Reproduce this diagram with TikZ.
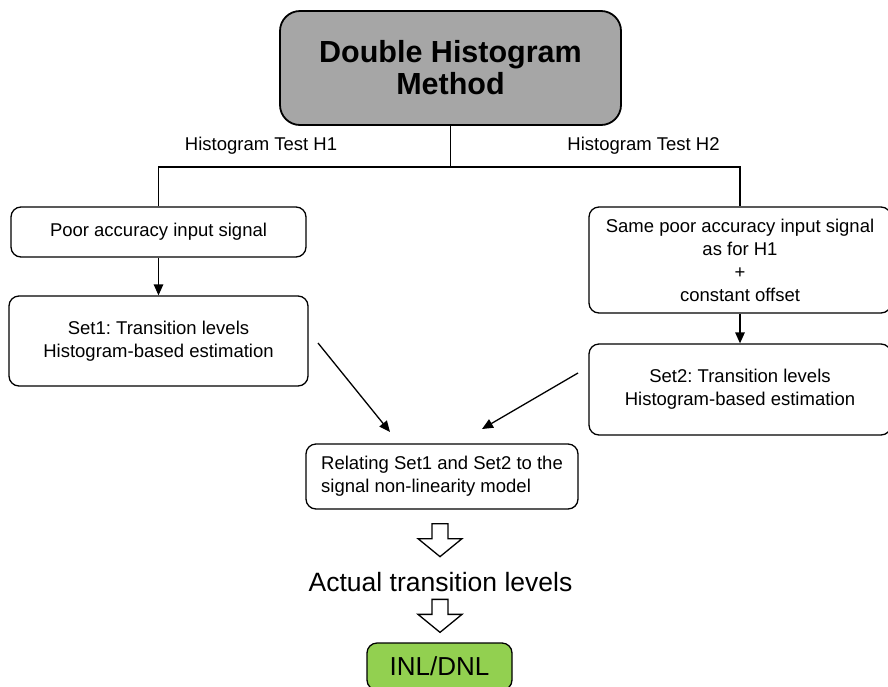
\documentclass[tikz,border=0pt]{standalone}
\usepackage{fontspec}
\setmainfont{Liberation Sans}
\usetikzlibrary{arrows.meta,calc}
\definecolor{headgray}{HTML}{A6A6A6}
\definecolor{resgreen}{HTML}{92D050}
\frenchspacing
\begin{document}
\begin{tikzpicture}[x=1pt,y=-1pt,
  box/.style={draw, line width=1.3pt, rounded corners=10pt, align=center,
    inner sep=0pt, font=\fontsize{18.5}{23}\selectfont},
  link/.style={line width=1.3pt, line join=miter},
  flow/.style={line width=1.3pt, -{Triangle[length=11pt,width=9.5pt]}},
  lbl/.style={inner sep=0pt, font=\fontsize{18.5}{23}\selectfont},
  hollow/.style={draw, line width=1.3pt, fill=white, line join=miter},
  hollowarrow/.pic={\draw[hollow] (-8,0) -- (8,0) -- (8,15) -- (22,15)
    -- (0,33) -- (-22,15) -- (-8,15) -- cycle;}
]
\useasboundingbox (0,0) rectangle (888,686);

% method title
\node[box, fill=headgray, line width=1.8pt, rounded corners=20pt,
  minimum width=341pt, minimum height=114pt,
  font=\bfseries\fontsize{30.5}{32}\selectfont] (head) at (450.5,68)
  {Double Histogram\\Method};

% branch labels
\node[lbl] (h1) at (261,146) {Histogram Test H1};
\node[lbl] (h2) at (643.5,146) {Histogram Test H2};

% left branch
\node[box, minimum width=295pt, minimum height=50pt] (poor) at (158.5,232)
  {Poor accuracy input signal};
\node[box, minimum width=299pt, minimum height=90pt] (set1) at (158.5,341)
  {Set1: Transition levels\\Histogram-based estimation};

% right branch
\node[box, minimum width=302pt, minimum height=106pt] (same) at (740,260)
  {Same poor accuracy input signal\\as for H1\\+\\constant offset};
\node[box, minimum width=302pt, minimum height=91pt] (set2) at (740,389.5)
  {Set2: Transition levels\\Histogram-based estimation};

% merge and results
\node[box, align=left, minimum width=272pt, minimum height=65pt] (relate)
  at (442,476.5) {Relating Set1 and Set2 to the\\signal non-linearity model};
\node[lbl, font=\fontsize{26.5}{30}\selectfont] (actual) at (440.5,582)
  {Actual transition levels};
\node[box, fill=resgreen, minimum width=145pt, minimum height=47pt,
  font=\fontsize{26}{30}\selectfont] (inl) at (439.5,666.5) {INL/DNL};

% tree connectors
\draw[link] (head.south) -- ++(0,41) coordinate (split);
\draw[link] (poor.north) |- (split) -| (same.north);

\draw[flow] (poor) -- (set1);
\draw[flow] (same) -- (set2);

% diagonal feeds into the relating step
\coordinate (s1tail) at (318,343);
\coordinate (s1tip) at (390,432);
\coordinate (s2tail) at (578,373);
\coordinate (s2tip) at (482,429);
\draw[flow] (s1tail) -- (s1tip);
\draw[flow] (s2tail) -- (s2tip);

% block arrows
\pic at ($(relate.south)+(-2,14)$) {hollowarrow};
\pic at ($(inl.north)+(0.5,-43)$) {hollowarrow};
\end{tikzpicture}
\end{document}
